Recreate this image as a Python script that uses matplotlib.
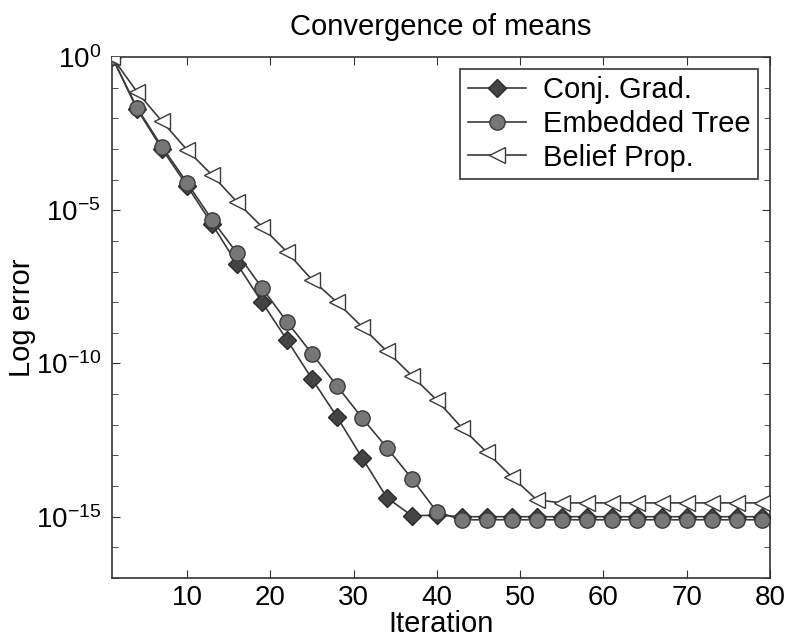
import numpy as np
import matplotlib
matplotlib.use('Agg')
import matplotlib.pyplot as plt
from matplotlib.ticker import FixedLocator, FuncFormatter, NullFormatter

plt.rcParams['font.family'] = ['Liberation Sans', 'DejaVu Sans']
plt.rcParams['mathtext.fontset'] = 'custom'
plt.rcParams['mathtext.rm'] = 'Liberation Sans'
plt.rcParams['mathtext.it'] = 'Liberation Sans:italic'

# iteraciones con marcador (cada 3)
iteraciones = np.arange(1, 80, 3)

# log10 del error
log_cg = [0, -1.7, -3.0, -4.2, -5.45, -6.75, -8.0, -9.23, -10.5, -11.74,
          -13.07, -14.38, -14.97, -14.95, -15.0, -15.0, -15.0, -15.0, -15.0,
          -15.0, -15.0, -15.0, -15.0, -15.0, -15.0, -15.0, -15.0]
log_et = [0, -1.66, -2.93, -4.1, -5.31, -6.4, -7.53, -8.64, -9.68, -10.73,
          -11.77, -12.75, -13.76, -14.84, -15.1, -15.1, -15.1, -15.1, -15.1,
          -15.1, -15.1, -15.1, -15.1, -15.1, -15.1, -15.1, -15.1]
log_bp = [0, -1.14, -2.1, -3.03, -3.85, -4.73, -5.54, -6.36, -7.27, -8.0,
          -8.8, -9.6, -10.4, -11.2, -12.1, -12.9, -13.7, -14.45, -14.55,
          -14.55, -14.55, -14.55, -14.55, -14.55, -14.55, -14.55, -14.55]

etiquetas = ['Conj. Grad.', 'Embedded Tree', 'Belief Prop.']

fig = plt.figure(figsize=(7.89, 6.44), dpi=100)
ax = fig.add_axes([0.142, 0.1025, 0.834, 0.809])

lc = '#3a3a3a'
ax.plot(iteraciones, 10.0 ** np.array(log_cg), '-D', color=lc, lw=1.2,
        markersize=9, markerfacecolor='#444444', markeredgecolor='#2a2a2a',
        label=etiquetas[0], zorder=3)
ax.plot(iteraciones, 10.0 ** np.array(log_et), '-o', color=lc, lw=1.2,
        markersize=11, markerfacecolor='#777777', markeredgecolor='#3a3a3a',
        label=etiquetas[1], zorder=4)
ax.plot(iteraciones, 10.0 ** np.array(log_bp), '-<', color=lc, lw=1.2,
        markersize=11, markerfacecolor='white', markeredgecolor='#3a3a3a',
        label=etiquetas[2], zorder=5)

ax.set_yscale('log')
ax.set_xlim(1, 80)
ax.set_ylim(1e-17, 1e0)

ax.set_xticks([10, 20, 30, 40, 50, 60, 70, 80])
ax.yaxis.set_major_locator(FixedLocator([1e0, 1e-5, 1e-10, 1e-15]))
ax.yaxis.set_minor_locator(FixedLocator([10.0 ** k for k in range(-17, 1)]))
ax.yaxis.set_major_formatter(FuncFormatter(lambda v, p: r'$10^{%d}$' % round(np.log10(v))))
ax.yaxis.set_minor_formatter(NullFormatter())

ax.tick_params(which='both', direction='in', top=True, right=True,
               labelsize=20, color='#333333')
ax.tick_params(which='major', length=6)
ax.tick_params(axis='x', which='major', pad=5)
ax.tick_params(axis='y', which='major', pad=8)
ax.tick_params(which='minor', length=4)
for s in ax.spines.values():
    s.set_color('#333333')
    s.set_linewidth(1.2)

ax.set_title('Convergence of means', fontsize=21, pad=16)
ax.set_xlabel('Iteration', fontsize=21, labelpad=-1)
ax.set_ylabel('Log error', fontsize=21, labelpad=0)

leg = ax.legend(loc='upper right', fontsize=21, numpoints=1, fancybox=False,
                edgecolor='#333333', framealpha=1, borderaxespad=0.4,
                handlelength=2.0, labelspacing=0.2, borderpad=0.25,
                handletextpad=0.6)
leg.get_frame().set_linewidth(1.2)

fig.savefig('out.png', dpi=100)
